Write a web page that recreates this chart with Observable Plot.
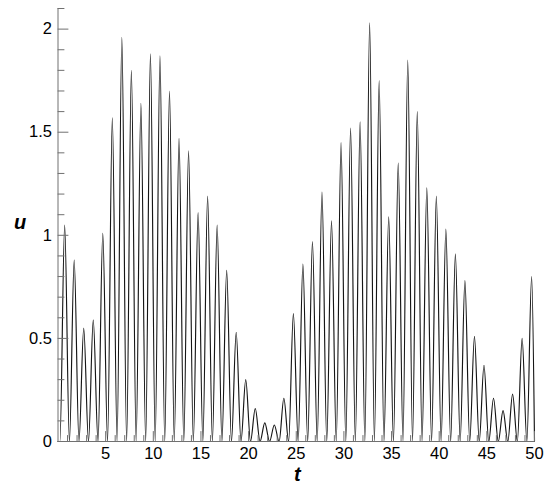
<!DOCTYPE html>
<html>
<head>
<meta charset="utf-8">
<script src="https://cdn.jsdelivr.net/npm/d3@7"></script>
<script src="https://cdn.jsdelivr.net/npm/@observablehq/plot@0.6"></script>
<style>
  html, body { margin: 0; padding: 0; background: #fff; }
  #chart svg { display: block; }
</style>
</head>
<body>
<div id="chart"></div>
<script>
// Peak times and peak heights of u(t)
const peakT = [0.7,1.7,2.7,3.7,4.7,5.7,6.7,7.7,8.7,9.7,10.7,11.7,12.7,13.7,14.7,15.7,16.7,17.7,18.7,19.7,20.7,21.7,22.7,23.7,24.7,25.7,26.7,27.7,28.7,29.7,30.7,31.7,32.7,33.7,34.7,35.7,36.7,37.7,38.7,39.7,40.7,41.7,42.7,43.7,44.7,45.7,46.7,47.7,48.7,49.7];
const peakU = [1.05,0.88,0.55,0.59,1.01,1.57,1.96,1.80,1.64,1.88,1.87,1.70,1.47,1.41,1.11,1.19,1.05,0.83,0.53,0.30,0.16,0.09,0.08,0.21,0.62,0.86,0.97,1.21,1.07,1.45,1.52,1.55,2.03,1.75,1.09,1.35,1.85,1.60,1.23,1.19,1.03,0.91,0.78,0.51,0.37,0.21,0.15,0.23,0.50,0.80];
// Times where u returns to zero
const troughT = [0,0.2,1.2,2.2,3.2,4.2,5.2,6.2,7.2,8.2,9.2,10.2,11.2,12.2,13.2,14.2,15.2,16.2,17.2,18.2,19.2,20.2,21.2,22.2,23.2,24.2,25.2,26.2,27.2,28.2,29.2,30.2,31.2,32.2,33.2,34.2,35.2,36.2,37.2,38.2,39.2,40.2,41.2,42.2,43.2,44.2,45.2,46.2,47.2,48.2,49.2,50];
const troughU = troughT.map(() => 0);

// Tick values
const xTickLabels = [5,10,15,20,25,30,35,40,45,50];
const xMinorTicks = [1,2,3,4,6,7,8,9,11,12,13,14,16,17,18,19,21,22,23,24,26,27,28,29,31,32,33,34,36,37,38,39,41,42,43,44,46,47,48,49];
const yTickLabels = [0,0.5,1,1.5,2];
const yMinorTicks = [0.1,0.2,0.3,0.4,0.6,0.7,0.8,0.9,1.1,1.2,1.3,1.4,1.6,1.7,1.8,1.9,2.1];

const rows = peakT.map((t, i) => ({t, u: peakU[i]}))
  .concat(troughT.map((t, i) => ({t, u: troughU[i]})))
  .sort((a, b) => a.t - b.t);

const axisColor = "#707070";
const font = "'Liberation Sans', Arial, Helvetica, sans-serif";
const tickShape = {draw(c, l) { c.moveTo(0, 0); c.lineTo(0, -l); }};

const chart = Plot.plot({
  width: 550,
  height: 484,
  marginLeft: 57.5,
  marginRight: 16,
  marginTop: 8,
  marginBottom: 43,
  style: {fontFamily: font, fontSize: "16px", color: "#000", background: "#fff"},
  x: {domain: [0, 50]},
  y: {domain: [0, 2.1]},
  marks: [
    Plot.line(rows, {x: "t", y: "u", curve: "monotone-x", stroke: "#151515", strokeWidth: 1.15}),
    // axis lines
    Plot.ruleX([0], {y1: 0, y2: 2.1, stroke: axisColor, strokeWidth: 1}),
    Plot.ruleY([0], {x1: 0, x2: 50, stroke: axisColor, strokeWidth: 1}),
    // inward ticks
    Plot.vector(yTickLabels, {x: 0, y: d => d, rotate: 90, length: 10, anchor: "start", stroke: axisColor, strokeWidth: 1, shape: tickShape}),
    Plot.vector(yMinorTicks, {x: 0, y: d => d, rotate: 90, length: 6, anchor: "start", stroke: axisColor, strokeWidth: 1, shape: tickShape}),
    Plot.vector(xTickLabels, {x: d => d, y: 0, rotate: 0, length: 10, anchor: "start", stroke: axisColor, strokeWidth: 1, shape: tickShape}),
    Plot.vector(xMinorTicks, {x: d => d, y: 0, rotate: 0, length: 6, anchor: "start", stroke: axisColor, strokeWidth: 1, shape: tickShape}),
    // tick labels
    Plot.axisY(yTickLabels, {ticks: yTickLabels, tickSize: 0, tickPadding: 6, label: null, fontSize: 16.5, tickFormat: d => String(d)}),
    Plot.axisX(xTickLabels, {ticks: xTickLabels, tickSize: 0, tickPadding: 6, label: null, fontSize: 16.5, tickFormat: d => String(d)}),
    // axis titles
    Plot.text(["u"], {frameAnchor: "left", dx: -44, dy: -2, fontSize: 20, fontWeight: "bold", fontStyle: "italic", fill: "#000"}),
    Plot.text(["t"], {frameAnchor: "bottom", dx: 1, dy: 39, fontSize: 20, fontWeight: "bold", fontStyle: "italic", fill: "#000"})
  ]
});
document.getElementById("chart").appendChild(chart);
</script>
</body>
</html>
